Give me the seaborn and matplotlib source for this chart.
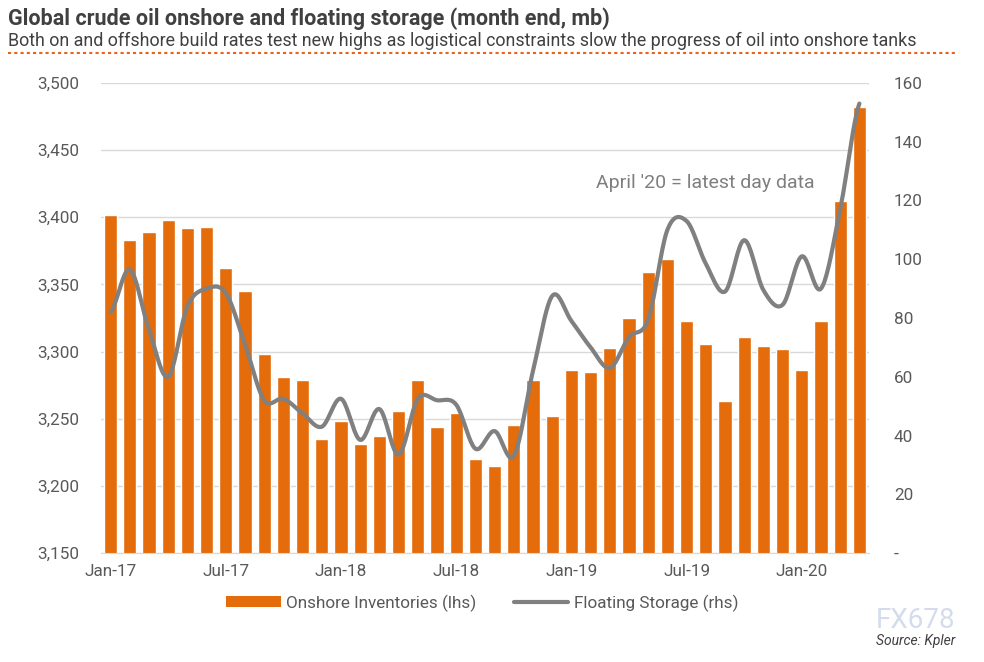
import numpy as np
import pandas as pd
import matplotlib
matplotlib.use("Agg")
import matplotlib.pyplot as plt
from matplotlib.lines import Line2D
from matplotlib.patches import Patch
from matplotlib.ticker import FuncFormatter, FixedLocator
import seaborn as sns

# Data
months = pd.date_range("2017-01-01", periods=40, freq="MS").strftime("%b-%y").tolist()
onshore = [3402, 3383, 3389, 3398, 3392, 3393, 3362, 3345, 3298, 3281,
           3279, 3235, 3248, 3231, 3237, 3256, 3279, 3244, 3254, 3220,
           3215, 3245, 3279, 3252, 3286, 3285, 3303, 3325, 3359, 3369,
           3323, 3306, 3263, 3311, 3304, 3302, 3286, 3323, 3412, 3482]
floating = [82, 96.5, 76, 60, 84, 90, 88.5, 71, 52, 52.5,
            47.5, 43, 52.5, 38.5, 49, 33.5, 52.5, 52, 50.5, 35.5,
            41.5, 33, 62, 87.5, 79, 70, 63, 73.5, 79.5, 110,
            113, 98.5, 89, 106.5, 89.5, 84.5, 101, 90, 117, 153]
tick_months = ["Jan-17", "Jul-17", "Jan-18", "Jul-18", "Jan-19", "Jul-19", "Jan-20"]

ORANGE = "#E46C0A"
GREY_LINE = "#808080"
TEXT = "#595959"
GRID = "#D9D9D9"


def smooth(y, n=20):
    # Catmull-Rom curve through the points, like Excel's "smoothed line"
    y = np.asarray(y, dtype=float)
    p = np.concatenate([[y[0]], y, [y[-1]]])
    xs, ys = [], []
    t = np.linspace(0, 1, n, endpoint=False)
    for i in range(len(y) - 1):
        p0, p1, p2, p3 = p[i], p[i + 1], p[i + 2], p[i + 3]
        seg = 0.5 * ((2 * p1) + (-p0 + p2) * t + (2 * p0 - 5 * p1 + 4 * p2 - p3) * t ** 2
                     + (-p0 + 3 * p1 - 3 * p2 + p3) * t ** 3)
        xs.extend(i + t)
        ys.extend(seg)
    xs.append(len(y) - 1)
    ys.append(y[-1])
    return np.array(xs), np.array(ys)


sns.set_style("white")
plt.rcParams["font.family"] = ["Roboto", "DejaVu Sans"]

fig = plt.figure(figsize=(9.84, 6.62), dpi=100)
ax = fig.add_axes([101 / 984, 1 - 553 / 662, 768 / 984, 470 / 662])

df = pd.DataFrame({"month": months, "onshore": onshore})
sns.barplot(data=df, x="month", y="onshore", color=ORANGE, saturation=1,
            width=0.68, ax=ax, order=months)
ax.set_ylim(3150, 3500)
ax.set_xlim(-0.5, 39.5)
ax.set_yticks(np.arange(3150, 3501, 50))
ax.yaxis.set_major_formatter(FuncFormatter(lambda v, p: f"{v:,.0f}"))
ax.grid(axis="y", color=GRID, lw=1)
ax.set_axisbelow(True)
ax.set_xlabel("")
ax.set_ylabel("")
ax.set_xticks([months.index(m) for m in tick_months])
ax.set_xticklabels(tick_months)
ax.xaxis.set_minor_locator(FixedLocator(np.arange(-0.5, 36, 6)))
ax.tick_params(axis="x", which="major", length=0, pad=8, labelsize=12.3, colors=TEXT)
ax.tick_params(axis="x", which="minor", length=5, color=GRID, width=1)
ax.tick_params(axis="y", length=0, pad=16, labelsize=12.3, colors=TEXT)
for side in ["left", "right", "top"]:
    ax.spines[side].set_visible(False)
ax.spines["bottom"].set_color(GRID)

ax2 = ax.twinx()
xs, ys = smooth(floating)
sns.lineplot(x=xs, y=ys, sort=False, color=GREY_LINE, lw=3, ax=ax2, legend=False)
ax2.set_ylim(0, 160)
ax2.set_yticks(np.arange(0, 161, 20))
ax2.yaxis.set_major_formatter(FuncFormatter(lambda v, p: "-" if v == 0 else f"{v:.0f}"))
ax2.tick_params(axis="y", length=0, pad=18, labelsize=12.3, colors=TEXT)
for side in ["left", "right", "top", "bottom"]:
    ax2.spines[side].set_visible(False)

ax2.text(25.3, 126, "April '20 = latest day data", ha="left", va="center",
         fontsize=14, color="#7F7F7F")

# Titles
fig.text(8 / 984, 1 - 19 / 662, "Global crude oil onshore and floating storage (month end, mb)",
         ha="left", va="center", fontsize=15.5, fontweight="bold", color="#404040")
fig.text(8 / 984, 1 - 41 / 662,
         "Both on and offshore build rates test new highs as logistical constraints slow the progress of oil into onshore tanks",
         ha="left", va="center", fontsize=12.9, color="#404040")
fig.add_artist(Line2D([8 / 984, 955 / 984], [1 - 53 / 662, 1 - 53 / 662],
                      transform=fig.transFigure, color="#E8641B", lw=1.5, ls=(0, (1.5, 1.5))))

handles = [Patch(facecolor=ORANGE, edgecolor="none"),
           Line2D([0], [0], color=GREY_LINE, lw=3)]
fig.legend(handles, ["Onshore Inventories (lhs)", "Floating Storage (rhs)"],
           loc="center", bbox_to_anchor=(0.49, 1 - 603 / 662), ncol=2, frameon=False,
           fontsize=12.3, labelcolor=TEXT, handlelength=3.2, handleheight=0.6,
           columnspacing=2.2, handletextpad=0.3)

fig.text(955 / 984, 1 - 621 / 662, "FX678", ha="right", va="center", fontsize=20,
         color="#C9D3E8", alpha=0.8)
fig.text(955 / 984, 1 - 641 / 662, "Source: Kpler", ha="right", va="center",
         fontsize=10, style="italic", color="#404040")

fig.savefig("out.png", dpi=100)
